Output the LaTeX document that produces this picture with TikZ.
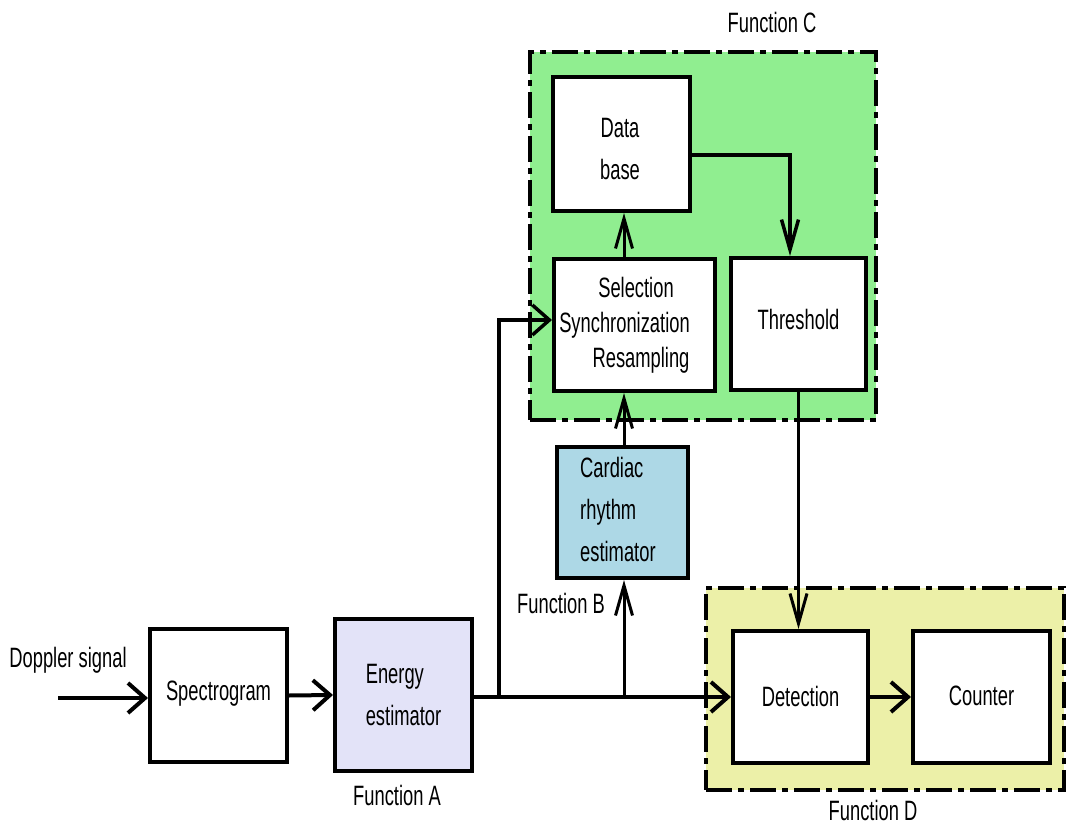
\documentclass[tikz,border=0pt]{standalone}
\usepackage{fontspec}
\setmainfont{Liberation Sans}[FakeStretch=0.655]
\usetikzlibrary{arrows.meta}
\definecolor{groupC}{HTML}{90EE90}
\definecolor{groupD}{HTML}{ECF0A8}
\definecolor{energyfill}{HTML}{E3E3F8}
\definecolor{cardiacfill}{HTML}{ADD8E6}

\begin{document}
\begin{tikzpicture}[x=1pt,y=-1pt,
  block/.style={draw=black, line width=4pt, fill=white, inner sep=0pt,
    font=\fontsize{28}{42}\selectfont},
  lbl/.style={font=\fontsize{28}{42}\selectfont, inner sep=0pt},
  group/.style={draw=black, line width=4pt, inner sep=0pt,
    dash pattern=on 26pt off 6pt on 6pt off 6pt},
  hflow/.style={line width=4pt, -{Straight Barb[length=17pt,width=30pt]}},
  vflow/.style={line width=3pt, -{Straight Barb[length=30pt,width=17pt]}},
]
\useasboundingbox (0,0) rectangle (1066,826);

% function groups
\node[group, fill=groupC, minimum width=346pt, minimum height=368pt] (fnC) at (703,236) {};
\node[group, fill=groupD, minimum width=358pt, minimum height=202pt] (fnD) at (885,689) {};
\node[lbl] (fnClbl) at (772,22) {Function C};
\node[lbl] (fnDlbl) at (873,810) {Function D};
\node[lbl] (fnAlbl) at (397,795) {Function A};
\node[lbl] (fnBlbl) at (561,603) {Function B};
\node[lbl] (doplbl) at (68,660) {Doppler signal};

% processing blocks
\node[block, minimum width=137pt, minimum height=134pt] (db) at (621.5,144) {};
\node[lbl, align=center] (dbtxt) at (620,149) {Data\\base};
\node[block, minimum width=161pt, minimum height=132pt, align=center,
  font=\fontsize{28}{35}\selectfont] (sel) at (634.5,325)
  {\hspace*{3pt}Selection\\\hbox{Synchronization\hspace{20pt}}\\\hspace*{13pt}Resampling};
\node[block, minimum width=135pt, minimum height=132pt] (thr) at (798.5,324) {\raisebox{10pt}{Threshold}};
\node[block, fill=cardiacfill, minimum width=131pt, minimum height=131pt] (card) at (622.5,512.5) {};
\node[lbl, align=left, anchor=west] (cardtxt) at (580,509) {Cardiac\\rhythm\\estimator};
\node[block, minimum width=137pt, minimum height=133pt] (spec) at (218.5,695.5) {\raisebox{10pt}{Spectrogram}};
\node[block, fill=energyfill, minimum width=137pt, minimum height=152pt, align=left] (energy) at (403.5,695) {Energy\\estimator};
\node[block, minimum width=135pt, minimum height=132pt] (det) at (800.5,697) {\raisebox{2pt}{Detection}};
\node[block, minimum width=137pt, minimum height=132pt] (cnt) at (981.5,697) {\raisebox{2pt}{Counter}};

% connectors
\coordinate (dopin) at (58,698);
\coordinate (tapA) at (499,697);
\coordinate (tapB) at (624,697);
\coordinate (dbturn) at (790,155);

\draw[hflow] (dopin) -- (dopin -| spec.west);
\draw[hflow] (spec.east) -- (energy.west);
\draw[hflow] (energy.east |- det.west) -- (det.west);
\draw[hflow, line width=3.5pt] (tapA) |- ([yshift=5pt]sel.west);
\draw[vflow] (tapB) -- (tapB |- card.south);
\draw[vflow] (tapB |- card.north) -- (tapB |- sel.south);
\draw[vflow] (tapB |- sel.north) -- (tapB |- db.south);
\draw[vflow, line width=3.5pt] (db.east |- dbturn) -| (dbturn |- thr.north);
\draw[vflow] (thr.south) -- (thr.south |- det.north);
\draw[hflow] (det.east) -- (cnt.west);
\end{tikzpicture}
\end{document}
